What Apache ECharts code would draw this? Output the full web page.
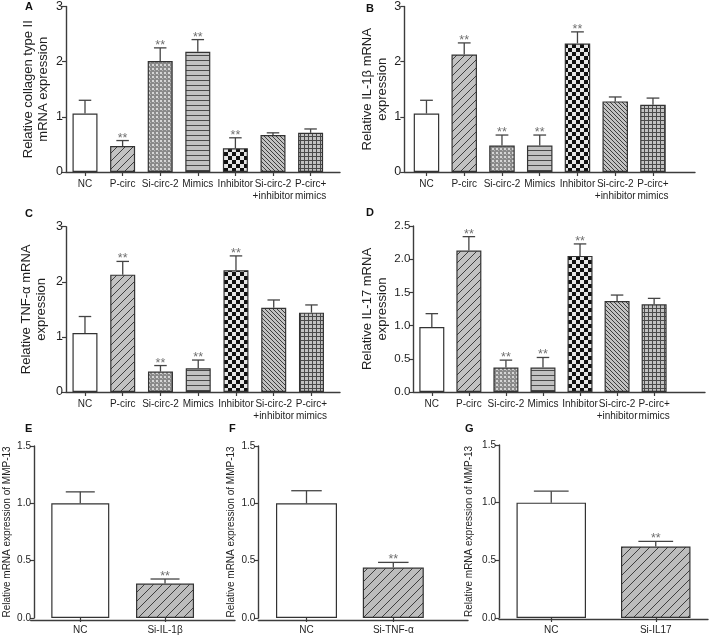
<!DOCTYPE html>
<html>
<head>
<meta charset="utf-8">
<script src="https://cdn.jsdelivr.net/npm/echarts@6/dist/echarts.min.js"></script>
<style>
html,body{margin:0;padding:0;background:#fff;}
#chart{width:709px;height:636px;}
</style>
</head>
<body>
<div id="chart"></div>
<script>
// ---------------- DATA ----------------
const categoriesAD = ['NC', 'P-circ', 'Si-circ-2', 'Mimics', 'Inhibitor', 'Si-circ-2\n+inhibitor', 'P-circ+\nmimics'];

const collagenMean = [1.06, 0.47, 2.01, 2.18, 0.43, 0.67, 0.71];
const collagenSD   = [0.24, 0.10, 0.24, 0.22, 0.19, 0.04, 0.07];
const collagenSig  = ['', '**', '**', '**', '**', '', ''];

const il1bMean = [1.06, 2.13, 0.48, 0.48, 2.33, 1.28, 1.22];
const il1bSD   = [0.24, 0.21, 0.19, 0.19, 0.21, 0.08, 0.12];
const il1bSig  = ['', '**', '**', '**', '**', '', ''];

const tnfMean = [1.07, 2.13, 0.37, 0.43, 2.21, 1.53, 1.44];
const tnfSD   = [0.30, 0.24, 0.11, 0.15, 0.26, 0.14, 0.14];
const tnfSig  = ['', '**', '**', '**', '**', '', ''];

const il17Mean = [0.98, 2.13, 0.37, 0.37, 2.05, 1.37, 1.32];
const il17SD   = [0.20, 0.21, 0.11, 0.15, 0.18, 0.09, 0.09];
const il17Sig  = ['', '**', '**', '**', '**', '', ''];

const categoriesE = ['NC', 'Si-IL-1β'];
const mmpEMean = [1.00, 0.30];
const mmpESD   = [0.10, 0.04];
const mmpESig  = ['', '**'];

const categoriesF = ['NC', 'Si-TNF-α'];
const mmpFMean = [1.00, 0.44];
const mmpFSD   = [0.11, 0.045];
const mmpFSig  = ['', '**'];

const categoriesG = ['NC', 'Si-IL17'];
const mmpGMean = [1.00, 0.62];
const mmpGSD   = [0.10, 0.045];
const mmpGSig  = ['', '**'];

const panelLetters = ['A', 'B', 'C', 'D', 'E', 'F', 'G'];
const yTitles = [
  'Relative collagen type II\nmRNA expression',
  'Relative IL-1β mRNA\nexpression',
  'Relative TNF-α mRNA\nexpression',
  'Relative IL-17 mRNA\nexpression',
  'Relative mRNA expression of MMP-13',
  'Relative mRNA expression of MMP-13',
  'Relative mRNA expression of MMP-13'
];
const yMax      = [3, 3, 3, 2.5, 1.5, 1.5, 1.5];
const yInterval = [1, 1, 1, 0.5, 0.5, 0.5, 0.5];
const yDecimals = [0, 0, 0, 1, 1, 1, 1];

// ---------------- STYLE / LAYOUT ----------------
const FONT = '"Liberation Sans", Arial, Helvetica, sans-serif';
const AX = '#3c3c3c';
const TXT = '#1e1e1e';

const layout = [
  {axisX: 66,    left: 66.2,  band: 37.6,  top: 5,     bottom: 172,   end: 340, barW: 25,   nameGap: 15, tickFont: 12.5, nameFont: 13, xFont: 10, lx: 25,  ly: 1},
  {axisX: 404.3, left: 407.6, band: 37.75, top: 5,     bottom: 172,   end: 695, barW: 25.5, nameGap: 14, tickFont: 12.5, nameFont: 13, xFont: 10, lx: 366, ly: 3},
  {axisX: 66,    left: 66.1,  band: 37.75, top: 226.7, bottom: 392,   end: 340, barW: 25,   nameGap: 17, tickFont: 12.5, nameFont: 13, xFont: 10, lx: 25,  ly: 208},
  {axisX: 413.3, left: 413.3, band: 37.05, top: 226,   bottom: 392,   end: 705, barW: 25,   nameGap: 23, tickFont: 11.5, nameFont: 13, xFont: 10, lx: 366, ly: 207},
  {axisX: 30.7,  left: 34.6,  band: 86.4,  top: 446,   bottom: 620.7, end: 235, barW: 58,   nameGap: 21, tickFont: 10,   nameFont: 10, xFont: 10, lx: 25,  ly: 423},
  {axisX: 258.3, left: 263.1, band: 86.8,  top: 446,   bottom: 620,   end: 468, barW: 61,   nameGap: 18, tickFont: 10,   nameFont: 10, xFont: 10, lx: 229, ly: 423},
  {axisX: 499,   left: 499,   band: 104.5, top: 445,   bottom: 619.3, end: 708, barW: 69.5, nameGap: 24, tickFont: 10,   nameFont: 10, xFont: 10, lx: 465, ly: 423}
];

// ---------------- PATTERNS ----------------
function makePattern(w, h, draw) {
  const c = document.createElement('canvas');
  c.width = w; c.height = h;
  const ctx = c.getContext('2d');
  draw(ctx, w, h);
  return {image: c, repeat: 'repeat'};
}
const GRAY = '#c2c2c2';
const patWhite = '#ffffff';
const patDiagUp = makePattern(8, 8, (ctx, w, h) => {
  ctx.fillStyle = GRAY; ctx.fillRect(0, 0, w, h);
  ctx.strokeStyle = '#3e3e3e'; ctx.lineWidth = 1;
  ctx.beginPath();
  ctx.moveTo(-1, h + 1); ctx.lineTo(w + 1, -1);
  ctx.moveTo(-1, 1); ctx.lineTo(1, -1);
  ctx.moveTo(w - 1, h + 1); ctx.lineTo(w + 1, h - 1);
  ctx.stroke();
});
const patDiagUpWide = makePattern(9, 9, (ctx, w, h) => {
  ctx.fillStyle = '#bdbdbd'; ctx.fillRect(0, 0, w, h);
  ctx.strokeStyle = '#3e3e3e'; ctx.lineWidth = 1;
  ctx.beginPath();
  ctx.moveTo(-1, h + 1); ctx.lineTo(w + 1, -1);
  ctx.moveTo(-1, 1); ctx.lineTo(1, -1);
  ctx.moveTo(w - 1, h + 1); ctx.lineTo(w + 1, h - 1);
  ctx.stroke();
});
const patDots = makePattern(4, 4, (ctx, w, h) => {
  ctx.fillStyle = '#8a8a8a'; ctx.fillRect(0, 0, w, h);
  ctx.fillStyle = '#d6d6d6'; ctx.fillRect(0, 0, 2, 2);
  ctx.fillStyle = '#b4b4b4'; ctx.fillRect(2, 2, 1, 1);
});
const patHStripes = makePattern(5, 5, (ctx, w, h) => {
  ctx.fillStyle = GRAY; ctx.fillRect(0, 0, w, h);
  ctx.fillStyle = '#4a4a4a'; ctx.fillRect(0, 0, w, 1);
});
const patChecker = makePattern(8, 8, (ctx, w, h) => {
  ctx.fillStyle = '#e6e6e6'; ctx.fillRect(0, 0, w, h);
  ctx.fillStyle = '#111111'; ctx.fillRect(0, 0, 4, 4); ctx.fillRect(4, 4, 4, 4);
});
const patDiagDown = makePattern(4, 4, (ctx, w, h) => {
  ctx.fillStyle = GRAY; ctx.fillRect(0, 0, w, h);
  ctx.strokeStyle = '#3e3e3e'; ctx.lineWidth = 1;
  ctx.beginPath();
  ctx.moveTo(-1, -1); ctx.lineTo(w + 1, h + 1);
  ctx.moveTo(w - 1, -1); ctx.lineTo(w + 1, 1);
  ctx.moveTo(-1, h - 1); ctx.lineTo(1, h + 1);
  ctx.stroke();
});
const patGrid = makePattern(4, 4, (ctx, w, h) => {
  ctx.fillStyle = GRAY; ctx.fillRect(0, 0, w, h);
  ctx.fillStyle = '#4a4a4a'; ctx.fillRect(0, 0, w, 1); ctx.fillRect(0, 0, 1, h);
});
const patternsAD = [patWhite, patDiagUp, patDots, patHStripes, patChecker, patDiagDown, patGrid];
const patternsEFG = [patWhite, patDiagUpWide];

// ---------------- PANELS ----------------
const panels = [
  {cats: categoriesAD, mean: collagenMean, sd: collagenSD, sig: collagenSig, pats: patternsAD},
  {cats: categoriesAD, mean: il1bMean, sd: il1bSD, sig: il1bSig, pats: patternsAD},
  {cats: categoriesAD, mean: tnfMean, sd: tnfSD, sig: tnfSig, pats: patternsAD},
  {cats: categoriesAD, mean: il17Mean, sd: il17SD, sig: il17Sig, pats: patternsAD},
  {cats: categoriesE, mean: mmpEMean, sd: mmpESD, sig: mmpESig, pats: patternsEFG},
  {cats: categoriesF, mean: mmpFMean, sd: mmpFSD, sig: mmpFSig, pats: patternsEFG},
  {cats: categoriesG, mean: mmpGMean, sd: mmpGSD, sig: mmpGSig, pats: patternsEFG}
];

const grids = [], xAxes = [], yAxes = [], series = [], titles = [];
const N = panels.length;

panels.forEach((p, k) => {
  const L = layout[k];
  const n = p.cats.length;
  grids.push({left: L.left, top: L.top, width: L.band * n, height: L.bottom - L.top});
  xAxes.push({
    type: 'category', gridIndex: k, data: p.cats,
    axisLine: {show: false},
    axisTick: {show: true, alignWithLabel: true, length: 4, lineStyle: {color: AX, width: 1.2}},
    axisLabel: {color: TXT, fontFamily: FONT, fontSize: L.xFont, margin: 6, lineHeight: 12, interval: 0},
    splitLine: {show: false}
  });
  yAxes.push({
    type: 'value', gridIndex: k, min: 0, max: yMax[k], interval: yInterval[k],
    offset: L.left - L.axisX,
    name: yTitles[k], nameLocation: 'middle', nameGap: L.nameGap, nameRotate: 90,
    nameTextStyle: {color: TXT, fontFamily: FONT, fontSize: L.nameFont, lineHeight: L.nameFont + 2},
    axisLine: {show: true, lineStyle: {color: AX, width: 1.4}},
    axisTick: {show: true, length: 4, lineStyle: {color: AX, width: 1.2}},
    axisLabel: {color: TXT, fontFamily: FONT, fontSize: L.tickFont, margin: 3,
      formatter: v => v.toFixed(yDecimals[k])},
    splitLine: {show: false}
  });
  series.push({
    type: 'bar', xAxisIndex: k, yAxisIndex: k, barWidth: L.barW,
    data: p.mean.map((v, i) => ({value: v, itemStyle: {color: p.pats[i]}})),
    itemStyle: {borderColor: '#333', borderWidth: 1.2},
    silent: true, animation: false
  });
  const sd = p.sd, sig = p.sig, barW = L.barW;
  series.push({
    type: 'custom', xAxisIndex: k, yAxisIndex: k, z: 5,
    data: p.mean.map((v, i) => [i, v]),
    encode: {x: 0, y: 1},
    renderItem: function (params, api) {
      const idx = params.dataIndex;
      const i = api.value(0), m = api.value(1);
      const p0 = api.coord([i, m]);
      const p1 = api.coord([i, m + sd[idx]]);
      const half = barW / 4;
      const st = {stroke: '#444', lineWidth: 1.3};
      const children = [
        {type: 'line', shape: {x1: p0[0], y1: p0[1], x2: p1[0], y2: p1[1]}, style: st},
        {type: 'line', shape: {x1: p1[0] - half, y1: p1[1], x2: p1[0] + half, y2: p1[1]}, style: st}
      ];
      if (sig[idx]) {
        children.push({type: 'text', style: {text: sig[idx], x: p1[0], y: p1[1] + 4,
          align: 'center', verticalAlign: 'bottom', fill: '#6e6e6e',
          fontSize: 12.5, fontFamily: FONT}});
      }
      return {type: 'group', children: children};
    },
    silent: true, animation: false
  });
  titles.push({text: panelLetters[k], left: L.lx, top: L.ly, padding: 0,
    textStyle: {fontFamily: FONT, fontSize: 11, fontWeight: 'bold', color: '#111'}});
});

// frame grids: full-length x axis lines
panels.forEach((p, k) => {
  const L = layout[k];
  grids.push({left: L.axisX, top: L.top, width: L.end - L.axisX, height: L.bottom - L.top});
  xAxes.push({
    type: 'value', gridIndex: N + k, min: 0, max: 1,
    axisLine: {show: true, onZero: false, lineStyle: {color: AX, width: 1.4}},
    axisTick: {show: false}, axisLabel: {show: false}, splitLine: {show: false}
  });
  yAxes.push({type: 'value', gridIndex: N + k, min: 0, max: 1, show: false});
});

const chart = echarts.init(document.getElementById('chart'), null, {renderer: 'canvas'});
chart.setOption({
  animation: false,
  backgroundColor: '#ffffff',
  title: titles,
  grid: grids,
  xAxis: xAxes,
  yAxis: yAxes,
  series: series
});
</script>
</body>
</html>
